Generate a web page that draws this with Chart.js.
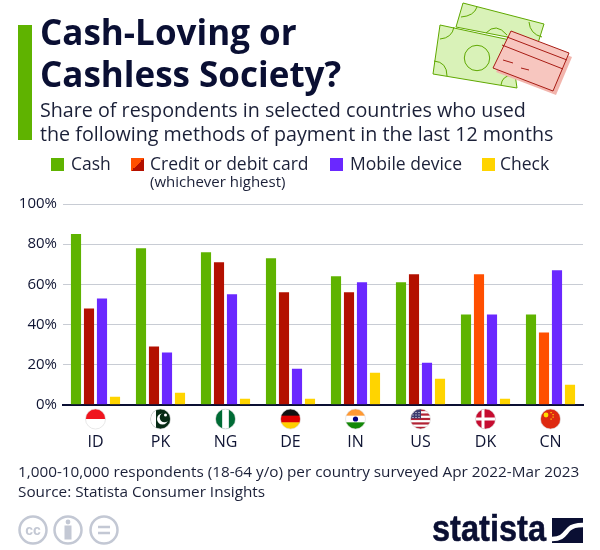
<!DOCTYPE html>
<html><head><meta charset="utf-8">
<script src="https://cdn.jsdelivr.net/npm/chart.js@4"></script>
<style>
html,body{margin:0;padding:0;background:#fff;width:600px;height:550px;overflow:hidden;font-family:"Open Sans",sans-serif;color:#0f1433}
#wrap{position:relative;width:600px;height:550px}
canvas{position:absolute;left:0;top:0}
.t{position:absolute;white-space:nowrap;line-height:1}
.sw{position:absolute;width:13px;height:13px}
svg{position:absolute}
</style></head><body><div id="wrap">
<canvas id="c" width="600" height="550"></canvas>
<div style="position:absolute;left:18px;top:25px;width:14px;height:115px;background:#5fb300"></div>
<div class="t" style="left:40px;top:14px;font-size:35px;font-weight:700;color:#0a0f33">Cash-Loving or</div>
<div class="t" style="left:40px;top:56px;font-size:35px;font-weight:700;color:#0a0f33">Cashless Society?</div>
<div class="t" style="left:40px;top:100px;font-size:19.7px;color:#1b2038">Share of respondents in selected countries who used</div>
<div class="t" style="left:40px;top:124px;font-size:19.7px;color:#1b2038">the following methods of payment in the last 12 months</div>
<div id="legend"></div>
<div class="t" style="left:150px;top:174px;font-size:15px;color:#1b2038;transform-origin:0 0">(whichever highest)</div>
<div class="t" style="left:18px;top:464px;font-size:15.3px;color:#1b2038">1,000-10,000 respondents (18-64 y/o) per country surveyed Apr 2022-Mar 2023</div>
<div class="t" style="left:18px;top:484px;font-size:15.3px;color:#1b2038">Source: Statista Consumer Insights</div>
<svg style="left:425px;top:0" width="150" height="100" viewBox="425 0 150 100">
 <g stroke="#5fa800" stroke-width="1" fill="#d9f2b8">
  <polygon points="463,3 544,24 538,43 456,27"/>
  <path d="M461,17 Q474,16 477,7 M529,22 Q530,34 542,37 M486,33 Q496,22 507,35" fill="none"/>
  <polygon points="440,25 510,40 517,88 433,74"/>
  <path d="M440,39 Q452,38 454,27 M434,61 Q447,62 447,76 M501,85 Q502,76 512,75" fill="none"/>
  <circle cx="477" cy="58" r="12.7" fill="none"/>
 </g>
 <polygon points="511,31 569,53 553,91 493,68" fill="#f2b5ad" transform="translate(3,4)"/>
 <g stroke="#a81c14" stroke-width="1" fill="#f7c6bf">
  <polygon points="511,31 569,53 553,91 493,68"/>
  <path d="M507,37 L567,60 M502,45 L563,69 M503,60 L513,63 M521,68 L529,70" fill="none"/>
 </g>
</svg>
<svg style="left:15px;top:512px" width="110" height="36" viewBox="0 0 110 36">
 <g fill="none" stroke="#c3c8d4" stroke-width="2.5">
  <circle cx="18" cy="18" r="13.5"/><circle cx="53" cy="18" r="13.5"/><circle cx="89" cy="18" r="13.5"/>
  <path d="M83,15 H95 M83,21 H95"/>
 </g>
 <text x="18" y="23" text-anchor="middle" font-family="Liberation Sans" font-weight="700" font-size="14" fill="#c3c8d4">cc</text>
 <circle cx="53" cy="10" r="2.4" fill="#c3c8d4"/><rect x="49.5" y="13.5" width="7" height="14" fill="#c3c8d4"/>
</svg>
<div class="t" id="logo" style="left:432px;top:510px;font-family:'Liberation Sans';font-weight:700;font-size:37px;color:#0a0f33;transform-origin:0 0;transform:scaleX(.88);-webkit-text-stroke:.5px #0a0f33">statista</div>
<svg style="left:552px;top:518px" width="31" height="25" viewBox="0 0 31 25">
 <rect width="31" height="25" fill="#0a0f33"/>
 <path d="M0,21 C11,21 12,16 17,11 C20,8 24,7 31,7" fill="none" stroke="#fff" stroke-width="4.5"/>
</svg>
</div>
<script>
const categories=["ID","PK","NG","DE","IN","US","DK","CN"];
const cash=[85,78,76,73,64,61,45,45];
const card=[48,29,71,56,56,65,65,36];
const mobile=[53,26,55,18,61,21,45,67];
const check=[4,6,3,3,16,13,3,10];
const cardKinds=["#b31000","#b31000","#b31000","#b31000","#b31000","#b31000","#ff4f00","#ff4f00"];
const yTicks=[0,20,40,60,80,100];
const seriesNames=["Cash","Credit or debit card","Mobile device","Check"];
const seriesColors=["#5fb300","#b31000","#6a28ff","#ffd400"];
const legendSwatchX=[51,131,330,482];
const legendTextX=[71,150,350,500];

const lg=document.getElementById('legend');
seriesNames.forEach((n,i)=>{
  const s=document.createElement('div');s.className='sw';
  s.style.cssText+=`left:${legendSwatchX[i]}px;top:158px;background:${i==1?'linear-gradient(135deg,#ff4f00 50%,#b31000 50%)':seriesColors[i]}`;
  lg.appendChild(s);
  const t=document.createElement('div');t.className='t';t.textContent=n;
  t.style.cssText+=`left:${legendTextX[i]}px;top:155px;font-size:17.5px;color:#1b2038`;
  lg.appendChild(t);
});

function stripes(ctx,x,y,r,cols){const h=2*r/cols.length;cols.forEach((c,i)=>{ctx.fillStyle=c;ctx.fillRect(x-r,y-r+i*h,2*r,h+.5);});}
const flagDraw={
 ID(ctx,x,y,r){stripes(ctx,x,y,r,["#f0141e","#ffffff"]);},
 PK(ctx,x,y,r){ctx.fillStyle="#062a14";ctx.fillRect(x-r,y-r,2*r,2*r);ctx.fillStyle="#fff";ctx.fillRect(x-r,y-r,r*.55,2*r);
   ctx.beginPath();ctx.arc(x+2,y,5.5,0,7);ctx.fill();ctx.fillStyle="#062a14";ctx.beginPath();ctx.arc(x+4,y-1.5,4.8,0,7);ctx.fill();
   ctx.fillStyle="#fff";ctx.beginPath();ctx.arc(x+5,y-4,1.5,0,7);ctx.fill();},
 NG(ctx,x,y,r){ctx.fillStyle="#006b35";ctx.fillRect(x-r,y-r,2*r,2*r);ctx.fillStyle="#fff";ctx.fillRect(x-r/3,y-r,2*r/3,2*r);},
 DE(ctx,x,y,r){stripes(ctx,x,y,r,["#111111","#dd0000","#ffce00"]);},
 IN(ctx,x,y,r){stripes(ctx,x,y,r,["#ff9933","#ffffff","#138808"]);ctx.fillStyle="#000080";ctx.beginPath();ctx.arc(x,y,2.6,0,7);ctx.fill();},
 US(ctx,x,y,r){const c=[];for(let i=0;i<9;i++)c.push(i%2?"#ffffff":"#b22234");stripes(ctx,x,y,r,c);ctx.fillStyle="#3c3b6e";ctx.fillRect(x-r,y-r,r*1.05,r*.95);
   ctx.fillStyle="#fff";for(let a=0;a<3;a++)for(let b=0;b<3;b++)ctx.fillRect(x-r+2+a*3,y-r+3+b*2.5,1,1);},
 DK(ctx,x,y,r){ctx.fillStyle="#c60c30";ctx.fillRect(x-r,y-r,2*r,2*r);ctx.fillStyle="#fff";ctx.fillRect(x-r,y-1.5,2*r,3);ctx.fillRect(x-4,y-r,3,2*r);},
 CN(ctx,x,y,r){ctx.fillStyle="#de2910";ctx.fillRect(x-r,y-r,2*r,2*r);ctx.fillStyle="#ffde00";ctx.beginPath();ctx.arc(x-4.5,y-4,2.4,0,7);ctx.fill();
   [[0,-7],[2,-5],[2,-2.5],[0,-.5]].forEach(p=>{ctx.fillRect(x+p[0],y+p[1],1.2,1.2);});}
};
const flagPlugin={id:'flags',afterDraw(chart){
  const ctx=chart.ctx,xs=chart.scales.x,y=419,r=10;
  categories.forEach((k,i)=>{
    const x=xs.getPixelForTick(i);
    ctx.save();ctx.beginPath();ctx.arc(x,y,r,0,Math.PI*2);ctx.clip();flagDraw[k](ctx,x,y,r);ctx.restore();
    ctx.save();ctx.strokeStyle="#d8d8d8";ctx.lineWidth=.6;ctx.beginPath();ctx.arc(x,y,r,0,Math.PI*2);ctx.stroke();ctx.restore();
  });
}};
new Chart(document.getElementById('c'),{
 type:'bar',
 data:{labels:categories,datasets:[
  {label:seriesNames[0],data:cash,backgroundColor:seriesColors[0]},
  {label:seriesNames[1],data:card,backgroundColor:cardKinds},
  {label:seriesNames[2],data:mobile,backgroundColor:seriesColors[2]},
  {label:seriesNames[3],data:check,backgroundColor:seriesColors[3]}
 ]},
 options:{responsive:false,animation:false,devicePixelRatio:1,
  layout:{padding:{left:0,right:17,top:204,bottom:70}},
  plugins:{legend:{display:false},tooltip:{enabled:false},title:{display:false}},
  datasets:{bar:{categoryPercentage:0.8,barPercentage:0.78}},
  scales:{
   x:{grid:{display:false,drawTicks:false},border:{color:'#0a0f33',width:2},
      ticks:{padding:28,color:'#0f1433',font:{family:'Open Sans',size:16},maxRotation:0}},
   y:{min:0,max:100,afterBuildTicks(a){a.ticks=yTicks.map(v=>({value:v}));},afterFit(a){a.width=63;},
      grid:{color:'#c8ccd4',lineWidth:1,drawTicks:false},border:{display:false},
      ticks:{padding:6,color:'#0f1433',font:{family:'Open Sans',size:15},callback:v=>v+'%'}}
  }
 },
 plugins:[flagPlugin]
});
</script></body></html>
